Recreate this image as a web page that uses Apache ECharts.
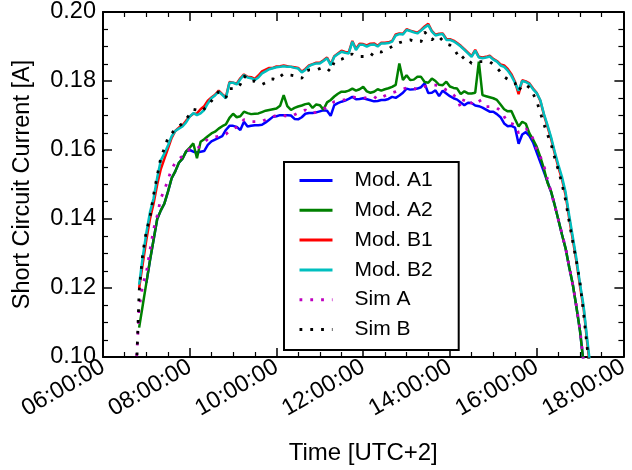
<!DOCTYPE html>
<html>
<head>
<meta charset="utf-8">
<script src="https://cdn.jsdelivr.net/npm/echarts@6/dist/echarts.min.js"></script>
<style>
html,body{margin:0;padding:0;background:#fff;}
#chart{width:632px;height:470px;}
</style>
</head>
<body>
<div id="chart"></div>
<script>
// Sample times (local, UTC+2), one row per hour
const times = [
  "06:45","06:50","06:55",
  "07:00","07:05","07:10","07:15","07:20","07:25","07:30","07:35","07:40","07:45","07:50","07:55",
  "08:00","08:05","08:10","08:15","08:20","08:25","08:30","08:35","08:40","08:45","08:50","08:55",
  "09:00","09:05","09:10","09:15","09:20","09:25","09:30","09:35","09:40","09:45","09:50","09:55",
  "10:00","10:05","10:10","10:15","10:20","10:25","10:30","10:35","10:40","10:45","10:50","10:55",
  "11:00","11:05","11:10","11:15","11:20","11:25","11:30","11:35","11:40","11:45","11:50","11:55",
  "12:00","12:05","12:10","12:15","12:20","12:25","12:30","12:35","12:40","12:45","12:50","12:55",
  "13:00","13:05","13:10","13:15","13:20","13:25","13:30","13:35","13:40","13:45","13:50","13:55",
  "14:00","14:05","14:10","14:15","14:20","14:25","14:30","14:35","14:40","14:45","14:50","14:55",
  "15:00","15:05","15:10","15:15","15:20","15:25","15:30","15:35","15:40","15:45","15:50","15:55",
  "16:00","16:05","16:10","16:15","16:20","16:25","16:30","16:35","16:40","16:45","16:50","16:55",
  "17:00","17:05","17:10","17:15","17:20"
];

const modA1 = [
  null,null,null,
  0.1215,0.128,0.134,0.140,0.1425,0.1445,0.148,0.1518,0.1538,0.1563,0.1575,0.1596,
  0.1600,0.1595,0.1593,0.1595,0.1597,0.1615,0.1625,0.163,0.1635,0.164,0.1658,0.167,
  0.167,0.1667,0.1658,0.1682,0.1668,0.167,0.1672,0.1672,0.1673,0.168,0.1688,0.1696,
  0.1698,0.1701,0.1701,0.1701,0.17,0.169,0.1689,0.1695,0.1705,0.1707,0.1707,0.1709,
  0.1712,0.1715,0.1714,0.1699,0.173,0.1736,0.174,0.1743,0.1748,0.1754,0.1747,0.1748,
  0.175,0.1747,0.1744,0.1741,0.1742,0.1745,0.1745,0.1748,0.1754,0.1751,0.1758,0.1766,
  0.1778,0.1775,0.1776,0.1778,0.1782,0.1793,0.1765,0.1766,0.1773,0.1756,0.1772,0.1764,
  0.1756,0.175,0.1746,0.1738,0.173,0.1737,0.1736,0.1729,0.1727,0.1723,0.1717,0.1711,
  0.1711,0.1704,0.1695,0.1677,0.1669,0.167,0.1665,0.1618,0.1645,0.1652,0.1641,0.1622,
  0.1593,0.1565,0.1537,0.1508,0.1478,0.144,0.1398,0.1355,0.1315,0.126,0.121,0.1145,
  0.1075,0.098,null,null,null
];

const modA2 = [
  null,0.1085,0.115,
  0.1215,0.128,0.134,0.140,0.1425,0.1445,0.148,0.1518,0.1538,0.1563,0.1575,0.1596,
  0.1607,0.1619,0.1576,0.1624,0.1631,0.164,0.1648,0.1653,0.1662,0.1669,0.1674,0.1693,
  0.1705,0.1695,0.1698,0.1711,0.1707,0.1704,0.1705,0.1706,0.171,0.1714,0.1716,0.1718,
  0.172,0.1728,0.1759,0.1727,0.1716,0.1722,0.1726,0.1729,0.1733,0.1735,0.1722,0.1732,
  0.173,0.1717,0.1738,0.1745,0.1755,0.1763,0.1769,0.1769,0.1772,0.1778,0.1772,0.1776,
  0.1783,0.177,0.1766,0.1769,0.1776,0.1772,0.1776,0.1779,0.1783,0.1789,0.1851,0.1803,
  0.1817,0.1803,0.1804,0.1812,0.1812,0.1797,0.1795,0.1807,0.18,0.1789,0.1788,0.1798,
  0.1784,0.178,0.1778,0.1762,0.177,0.1764,0.1764,0.1766,0.1856,0.1759,0.1756,0.1753,
  0.175,0.1745,0.1732,0.1718,0.1712,0.1713,0.169,0.1668,0.1682,0.1676,0.1648,0.163,
  0.161,0.158,0.1546,0.1505,0.148,0.144,0.1398,0.1355,0.1315,0.126,0.121,0.1145,
  0.1075,0.098,null,null,null
];

const modB1 = [
  null,0.120,0.127,
  0.134,0.140,0.1445,0.150,0.1545,0.1575,0.1605,0.1635,0.1655,0.1665,0.1672,0.1685,
  0.1697,0.1705,0.1706,0.1718,0.1727,0.1743,0.1752,0.176,0.1772,0.1762,0.1753,0.1797,
  0.1795,0.1792,0.1808,0.1819,0.1812,0.1811,0.1806,0.1816,0.1828,0.1833,0.1838,0.1838,
  0.1842,0.1843,0.1845,0.1843,0.1841,0.184,0.1838,0.1827,0.1835,0.1845,0.1849,0.1853,
  0.1853,0.186,0.1868,0.1848,0.1872,0.188,0.1888,0.1884,0.1883,0.1916,0.1893,0.1908,
  0.1907,0.1903,0.1908,0.1909,0.1902,0.1911,0.1911,0.1912,0.1916,0.1935,0.1938,0.1937,
  0.195,0.1946,0.1943,0.194,0.1948,0.1958,0.1966,0.1945,0.1934,0.1937,0.1938,0.1922,
  0.1921,0.1917,0.191,0.1902,0.1892,0.1882,0.1872,0.189,0.187,0.1868,0.187,0.1873,
  0.1864,0.1858,0.1848,0.1845,0.1835,0.182,0.1798,0.1762,0.1802,0.1799,0.1793,0.1778,
  0.1766,0.1743,0.1702,0.1668,0.1632,0.159,0.155,0.1515,0.147,0.1402,0.134,0.1277,
  0.1205,0.114,0.104,0.095,null
];

const modB2 = [
  null,0.121,0.129,
  0.136,0.142,0.146,0.152,0.157,0.159,0.1614,0.164,0.1655,0.1662,0.1668,0.168,
  0.1697,0.1707,0.1701,0.1706,0.1716,0.1735,0.175,0.1758,0.1769,0.176,0.175,0.1795,
  0.1795,0.179,0.1805,0.1817,0.181,0.1808,0.1803,0.181,0.1822,0.1828,0.1834,0.1837,
  0.184,0.1841,0.1843,0.1841,0.1841,0.1838,0.1836,0.1825,0.1832,0.1843,0.1848,0.1851,
  0.1851,0.1858,0.1866,0.1846,0.187,0.1878,0.1885,0.1882,0.188,0.1914,0.189,0.1905,
  0.1905,0.19,0.1905,0.1906,0.19,0.1909,0.1909,0.191,0.1914,0.1932,0.1936,0.1935,
  0.1948,0.1945,0.1941,0.1938,0.1946,0.1955,0.1962,0.1943,0.1932,0.1935,0.1936,0.1919,
  0.1919,0.1915,0.1908,0.19,0.189,0.188,0.187,0.1888,0.1868,0.1866,0.1868,0.1871,
  0.1862,0.1856,0.1845,0.1841,0.183,0.1815,0.1795,0.1772,0.180,0.1797,0.1791,0.1776,
  0.1765,0.1745,0.1705,0.1672,0.1637,0.1595,0.1557,0.1522,0.1478,0.141,0.1348,0.1285,
  0.1212,0.1147,0.105,0.096,null
];

const simA = [
  0.094,0.114,0.121,
  0.1245,0.131,0.137,0.141,0.146,0.1484,0.1515,0.1545,0.1563,0.1574,0.1582,0.159,
  0.1603,0.1603,0.1604,0.1612,0.1622,0.1632,0.1636,0.1638,0.164,0.1642,0.1646,0.1655,
  0.1662,0.1666,0.1675,0.1688,0.1685,0.1682,0.1682,0.1682,0.1683,0.1688,0.1693,0.1697,
  0.17,0.1701,0.17,0.1698,0.1697,0.1702,0.1707,0.1713,0.1716,0.171,0.1706,0.171,
  0.1714,0.1718,0.1726,0.1733,0.174,0.1742,0.1744,0.1746,0.175,0.1754,0.1752,0.1751,
  0.175,0.1752,0.1756,0.1755,0.1747,0.1752,0.1757,0.1762,0.1766,0.1769,0.1773,0.1777,
  0.178,0.1783,0.1779,0.1775,0.178,0.1784,0.1786,0.1788,0.1788,0.1786,0.178,0.1774,
  0.1769,0.176,0.1748,0.1723,0.175,0.174,0.1736,0.1745,0.1748,0.173,0.1726,0.1726,
  0.1726,0.1722,0.1714,0.1697,0.168,0.1677,0.1673,0.1649,0.166,0.1661,0.1655,0.1632,
  0.1602,0.1581,0.1555,0.1515,0.1478,0.1438,0.1398,0.1357,0.1316,0.1262,0.1208,0.1148,
  0.1078,0.0985,null,null,null
];

const simB = [
  0.088,0.119,0.130,
  0.1365,0.1405,0.147,0.1525,0.1578,0.1605,0.1636,0.1648,0.166,0.1669,0.1677,0.169,
  0.1703,0.1718,0.1716,0.1711,0.1719,0.1728,0.1742,0.1755,0.1769,0.176,0.1752,0.1778,
  0.1778,0.1778,0.179,0.1815,0.1806,0.1798,0.18,0.1795,0.179,0.1795,0.1805,0.1806,
  0.1803,0.1813,0.1821,0.1818,0.1817,0.1815,0.1811,0.1808,0.1828,0.1832,0.1832,0.1832,
  0.1836,0.184,0.1836,0.1827,0.1856,0.186,0.1863,0.1868,0.1876,0.1878,0.1872,0.1871,
  0.1871,0.1871,0.1871,0.1885,0.1885,0.1884,0.1889,0.1894,0.19,0.1907,0.1911,0.1914,
  0.1917,0.1919,0.1916,0.1914,0.1914,0.1942,0.193,0.1919,0.193,0.1928,0.1917,0.1907,
  0.1904,0.1896,0.1878,0.1862,0.1872,0.1862,0.1851,0.1854,0.1856,0.1856,0.1856,0.1856,
  0.1848,0.1838,0.1826,0.1812,0.1805,0.1801,0.1794,0.1771,0.1788,0.1789,0.1781,0.1763,
  0.1742,0.1709,0.1675,0.1645,0.1617,0.1577,0.1542,0.1502,0.1455,0.1392,0.1333,0.1278,
  0.1215,0.1125,0.1025,0.094,null
];

const seriesNames = ["Mod. A1","Mod. A2","Mod. B1","Mod. B2","Sim A","Sim B"];
const xTickMinutes = [360, 1080]; // 06:00 .. 18:00
const yRange = [0.10, 0.20];

function toMin(s){ const p = s.split(":"); return (+p[0])*60 + (+p[1]); }
function pairs(vals){ return times.map((t,i)=>[toMin(t), vals[i] === undefined ? null : vals[i]]); }
function hms(m){ const h = Math.floor(m/60); return (h<10?"0":"")+h+":00:00"; }

const FONT = "Liberation Sans, Arial, Helvetica, sans-serif";
const chart = echarts.init(document.getElementById('chart'), null, {renderer:'canvas'});

function lineSeries(name, vals, color, dotted){
  return {
    name, type:'line', data: pairs(vals), symbol:'none', showSymbol:false,
    connectNulls:false, clip:true, animation:false,
    lineStyle: dotted ? {color, width:2.8, type:[2.8,8], cap:'butt'} : {color, width:2.5},
    itemStyle:{color}
  };
}

const axisLineStyle = {show:true, lineStyle:{color:'#000', width:2}};
const tickStyle = {inside:true, length:9, lineStyle:{color:'#000', width:1.5}};
const minorStyle = {show:true, splitNumber:4, length:5, lineStyle:{color:'#000', width:1.2}};
const option = {
  animation:false,
  backgroundColor:'#fff',
  textStyle:{fontFamily:FONT},
  grid:{left:103, right:3, top:12, bottom:113, containLabel:false},
  xAxis:[
    {type:'value', min:xTickMinutes[0], max:xTickMinutes[1], interval:120, position:'bottom',
     axisLine:axisLineStyle, axisTick:tickStyle, minorTick:minorStyle,
     splitLine:{show:false},
     axisLabel:{rotate:30, fontSize:23.5, color:'#000', margin:8, fontFamily:FONT, formatter:hms},
     name:'Time [UTC+2]', nameLocation:'middle', nameGap:84,
     nameTextStyle:{fontSize:24, color:'#000', fontFamily:FONT}},
    {type:'value', min:xTickMinutes[0], max:xTickMinutes[1], interval:120, position:'top',
     axisLine:axisLineStyle, axisTick:tickStyle, minorTick:minorStyle,
     splitLine:{show:false}, axisLabel:{show:false}}
  ],
  yAxis:[
    {type:'value', min:yRange[0], max:yRange[1], interval:0.02, position:'left',
     axisLine:axisLineStyle, axisTick:tickStyle, minorTick:minorStyle,
     splitLine:{show:false},
     axisLabel:{fontSize:23.5, color:'#000', margin:7, fontFamily:FONT, formatter:v=>v.toFixed(2)},
     name:'Short Circuit Current [A]', nameLocation:'middle', nameGap:68,
     nameTextStyle:{fontSize:23.5, color:'#000', fontFamily:FONT}},
    {type:'value', min:yRange[0], max:yRange[1], interval:0.02, position:'right',
     axisLine:axisLineStyle, axisTick:tickStyle, minorTick:minorStyle,
     splitLine:{show:false}, axisLabel:{show:false}}
  ],
  legend:{
    show:true, orient:'vertical', left:284, top:162,
    data:seriesNames,
    backgroundColor:'#fff', borderColor:'#000', borderWidth:2, borderRadius:0,
    padding:[8,26,10,14],
    itemWidth:33, itemHeight:14, itemGap:8.8,
    itemStyle:{opacity:0},
    lineStyle:{width:3},
    textStyle:{fontSize:21, color:'#000', fontFamily:FONT, lineHeight:20, padding:[0,0,0,17]}
  },
  series:[
    lineSeries(seriesNames[0], modA1, '#0000ff', false),
    lineSeries(seriesNames[1], modA2, '#008000', false),
    lineSeries(seriesNames[2], modB1, '#ff0000', false),
    lineSeries(seriesNames[3], modB2, '#00bfbf', false),
    lineSeries(seriesNames[4], simA, '#bf00bf', true),
    lineSeries(seriesNames[5], simB, '#000000', true)
  ]
};
chart.setOption(option);
</script>
</body>
</html>
